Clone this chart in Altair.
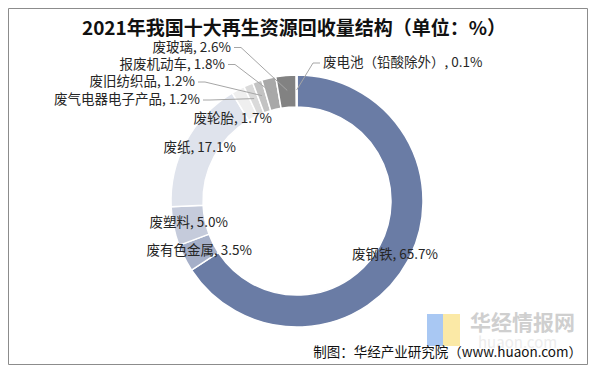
import altair as alt
import pandas as pd

# ---- data ----
names = ["废钢铁", "废有色金属", "废塑料", "废纸", "废轮胎", "废气电器电子产品",
         "废旧纺织品", "报废机动车", "废玻璃", "废电池（铅酸除外）"]
values = [65.7, 3.5, 5.0, 17.1, 1.7, 1.2, 1.2, 1.8, 2.6, 0.1]
colors = ["#6a7ca5", "#a5afc8", "#c5cbdb", "#dfe3ec", "#efefef", "#dadada",
          "#c3c3c3", "#a8a8a8", "#828282", "#7a7a7a"]
title_text = "2021年我国十大再生资源回收量结构（单位：%）"
source_text = "制图：华经产业研究院（www.huaon.com）"

# ---- layout (page pixel coordinates) ----
OFF = 8
CX, CY = 297, 201
R_OUT, R_IN, R_MID = 126, 94, 111
label_x = [352, 252, 228, 236, 272, 200, 195, 225, 231, 323]
label_y = [255, 251, 223, 148, 119, 100, 82, 64.5, 47.5, 63]
label_side = ["left", "right", "right", "right", "right", "right", "right", "right", "right", "left"]
has_leader = [False, False, False, False, False, True, True, True, True, True]

W, H = 580, 357
FONT = "Noto Sans CJK SC"

rows = []
for i, (n, v) in enumerate(zip(names, values)):
    d = -1 if label_side[i] == "left" else 1
    rows.append(dict(
        idx=i, name=n, value=v, label=f"{n}, {v:.1f}%",
        lx=label_x[i] - OFF, ly=label_y[i] - OFF, side=label_side[i],
        sx=label_x[i] - OFF + 3 * d, kx=label_x[i] - OFF + 10 * d,
        leader=has_leader[i],
    ))
df = pd.DataFrame(rows)

cx, cy = CX - OFF, CY - OFF

arcs = alt.Chart(df).mark_arc(
    outerRadius=R_OUT, innerRadius=R_IN, stroke="white", strokeWidth=1.5
).encode(
    theta=alt.Theta("value:Q", stack=True),
    order=alt.Order("idx:Q"),
    color=alt.Color("name:N", scale=alt.Scale(domain=names, range=colors), legend=None),
    x=alt.value(cx), y=alt.value(cy),
)

leader_base = alt.Chart(df).transform_joinaggregate(
    total="sum(value)"
).transform_window(
    cum="sum(value)", sort=[alt.SortField("idx")], frame=[None, 0]
).transform_calculate(
    ang="(datum.cum - datum.value/2) / datum.total * 2 * PI",
    px=f"{cx} + {R_MID} * sin(datum.ang)",
    py=f"{cy} - {R_MID} * cos(datum.ang)",
).transform_filter("datum.leader")

leader1 = leader_base.mark_rule(color="#a6a6a6", strokeWidth=1).encode(
    x=alt.X("sx:Q", scale=None, axis=None),
    x2="kx:Q",
    y=alt.Y("ly:Q", scale=None, axis=None),
)
leader2 = leader_base.mark_rule(color="#a6a6a6", strokeWidth=1).encode(
    x=alt.X("kx:Q", scale=None, axis=None),
    x2="px:Q",
    y=alt.Y("ly:Q", scale=None, axis=None),
    y2="py:Q",
)

def labels(side, align):
    return alt.Chart(df).transform_filter(f"datum.side == '{side}'").mark_text(
        align=align, baseline="middle", font=FONT, fontSize=13.5, color="#262626"
    ).encode(
        x=alt.X("lx:Q", scale=None, axis=None),
        y=alt.Y("ly:Q", scale=None, axis=None),
        text="label:N",
    )

title = alt.Chart(pd.DataFrame({"t": [title_text]})).mark_text(
    align="center", baseline="middle", font=FONT, fontSize=19, fontWeight="bold", color="#111111"
).encode(x=alt.value(294 - OFF), y=alt.value(29 - OFF), text="t:N")

source = alt.Chart(pd.DataFrame({"t": [source_text]})).mark_text(
    align="right", baseline="middle", font=FONT, fontSize=13.5, color="#111111"
).encode(x=alt.value(582 - OFF), y=alt.value(353 - OFF), text="t:N")

# watermark
logo_b = alt.Chart(pd.DataFrame({"a": [1]})).mark_rect(color="#a9c8f3").encode(
    x=alt.value(427 - OFF), x2=alt.value(443 - OFF), y=alt.value(314 - OFF), y2=alt.value(346 - OFF))
logo_y = alt.Chart(pd.DataFrame({"a": [1]})).mark_rect(color="#fbe9a6").encode(
    x=alt.value(443 - OFF), x2=alt.value(460 - OFF), y=alt.value(314 - OFF), y2=alt.value(346 - OFF))
wm1 = alt.Chart(pd.DataFrame({"t": ["华经情报网"]})).mark_text(
    align="left", baseline="middle", font=FONT, fontSize=21, fontWeight="bold", color="#cfcfcf"
).encode(x=alt.value(470 - OFF), y=alt.value(324 - OFF), text="t:N")
wm2 = alt.Chart(pd.DataFrame({"t": ["huaon.com"]})).mark_text(
    align="left", baseline="top", font=FONT, fontSize=15, color="#ececec"
).encode(x=alt.value(478 - OFF), y=alt.value(336 - OFF), text="t:N")

frame = alt.Chart(pd.DataFrame({"a": [1]})).mark_rect(
    fill="transparent", stroke="#8c8c8c", strokeWidth=1
).encode(x=alt.value(0.5), x2=alt.value(W - 0.5), y=alt.value(0.5), y2=alt.value(H - 0.5))

chart = alt.layer(
    frame, logo_b, logo_y, wm1, wm2, arcs, leader1, leader2,
    labels("right", "right"), labels("left", "left"), title, source
).properties(
    width=W, height=H, padding=0, autosize=alt.AutoSizeParams(type="none")
).configure_view(stroke=None)

chart.save("out.html", embed_options={"renderer": "svg", "actions": False})
